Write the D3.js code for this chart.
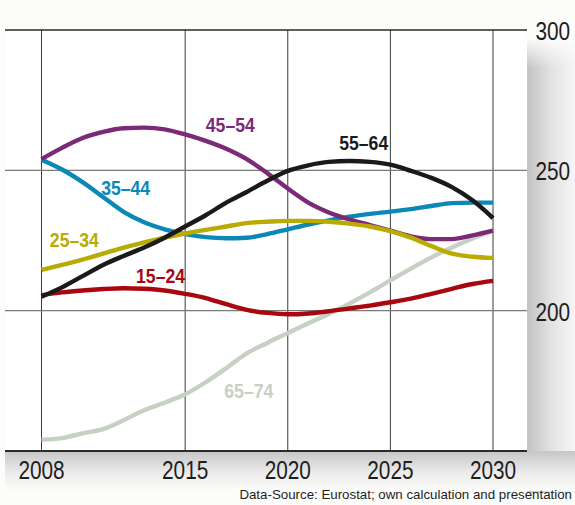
<!DOCTYPE html>
<html><head><meta charset="utf-8">
<script src="https://cdn.jsdelivr.net/npm/d3@7"></script>
<style>
html,body{margin:0;padding:0;background:#fcfcfa;}
svg{display:block;}
</style></head>
<body>
<svg id="chart" width="575" height="505"></svg>
<script>
// ---- data ----
const years = [2008,2009,2010,2011,2012,2013,2014,2015,2016,2017,2018,2019,2020,2021,2022,2023,2024,2025,2026,2027,2028,2029,2030];
const age15_24 = [205.5,206.5,207.2,207.7,208,207.8,207.2,206,204.5,202.3,200.3,199.2,198.7,199,199.8,200.8,201.8,203,204.3,206,207.8,209.5,210.6];
const age25_34 = [214.5,216.3,218.2,220.3,222.5,224.3,226,227.5,228.8,230,231.2,231.7,232,232,231.7,231,230,228.3,226,223,220.3,219.2,218.8];
const age35_44 = [253.8,250.3,245.8,240.5,235.2,231.5,229,227.3,226.2,225.8,226,227.3,229,230.7,232.2,233.5,234.5,235.3,236.2,237.3,238.3,238.5,238.5];
const age45_54 = [254,258,261.5,263.7,265,265.2,264.6,262.8,260.5,257.7,254,249,243.5,238.5,235,232.5,230.5,228.5,226.5,225.5,225.5,226.8,228.5];
const age55_64 = [205,208.3,212.3,216.3,219.5,222.5,226,230,234,238.5,242.3,246.3,249.8,251.8,253,253.3,253,252,249.8,247.3,244,239.3,233];
const age65_74 = [154,154.6,156.3,157.8,161,164.5,167.2,170.2,174.5,179.5,184.8,188.5,192,195.5,198.8,202.5,206.5,210.8,215,219,222.5,225.7,228.5];
const seriesNames = ["65–74","15–24","35–44","45–54","25–34","55–64"];
const seriesValues = [age65_74, age15_24, age35_44, age45_54, age25_34, age55_64];
const xTicks = [2008,2015,2020,2025,2030];
const yTicks = [200,250,300];
const sourceText = "Data-Source: Eurostat; own calculation and presentation";

// ---- styling / layout ----
const colors = {"65–74":"#c6d0c3","15–24":"#a8070f","35–44":"#0c88b6","45–54":"#7c2a77","25–34":"#b9ab02","55–64":"#1b1a1a"};
const labelAt = {"45–54":[2017.2,263.7],"55–64":[2023.7,257.3],"35–44":[2012.1,241.3],"25–34":[2009.6,222.7],"15–24":[2013.8,209.9],"65–74":[2018.1,168.9]};
const fam = "'Liberation Sans',Arial,sans-serif";
const squeeze = 0.8;

const svg = d3.select("#chart");
const plotL = 5, plotR = 527, plotT = 30, plotB = 451;
const x = d3.scaleLinear().domain([2008,2030]).range([41.5,493]);
const y = d3.scaleLinear().domain([150,300]).range([plotB,plotT]);

const defs = svg.append("defs");
const gR = defs.append("linearGradient").attr("id","shR").attr("x1",0).attr("x2",1).attr("y1",0).attr("y2",0);
gR.append("stop").attr("offset",0).attr("stop-color","#c2c2c2");
gR.append("stop").attr("offset",0.5).attr("stop-color","#e2e2e2");
gR.append("stop").attr("offset",1).attr("stop-color","#f6f6f6");
const gRt = defs.append("linearGradient").attr("id","shRt").attr("x1",0).attr("x2",0).attr("y1",0).attr("y2",1);
gRt.append("stop").attr("offset",0).attr("stop-color","#fcfcfa").attr("stop-opacity",1);
gRt.append("stop").attr("offset",1).attr("stop-color","#fcfcfa").attr("stop-opacity",0);
const gB = defs.append("linearGradient").attr("id","shB").attr("x1",0).attr("x2",0).attr("y1",0).attr("y2",1);
gB.append("stop").attr("offset",0).attr("stop-color","#c6c6c6");
gB.append("stop").attr("offset",0.55).attr("stop-color","#ececec");
gB.append("stop").attr("offset",1).attr("stop-color","#fcfcfa");

// shadows
svg.append("rect").attr("x",plotR).attr("y",38).attr("width",575-plotR).attr("height",455).attr("fill","url(#shR)");
svg.append("rect").attr("x",plotR).attr("y",38).attr("width",575-plotR).attr("height",30).attr("fill","url(#shRt)");
svg.append("rect").attr("x",plotL).attr("y",plotB).attr("width",575-plotL).attr("height",40).attr("fill","url(#shB)");
// plot background
svg.append("rect").attr("x",plotL).attr("y",plotT).attr("width",plotR-plotL).attr("height",plotB-plotT).attr("fill","#fff");

// vertical grid
svg.append("g").selectAll("line").data(xTicks).join("line")
  .attr("x1",d=>x(d)).attr("x2",d=>x(d)).attr("y1",plotT).attr("y2",plotB)
  .attr("stroke","#3a3a3a").attr("stroke-width",1);
// horizontal grid
svg.append("g").selectAll("line").data(yTicks.filter(d=>d<300)).join("line")
  .attr("x1",plotL).attr("x2",plotR).attr("y1",d=>y(d)).attr("y2",d=>y(d))
  .attr("stroke","#7a7a7a").attr("stroke-width",1.3);
svg.append("line").attr("x1",plotL).attr("x2",plotR).attr("y1",y(300)).attr("y2",y(300))
  .attr("stroke","#2a2a2a").attr("stroke-width",1.6);
svg.append("line").attr("x1",plotL).attr("x2",plotR).attr("y1",plotB).attr("y2",plotB)
  .attr("stroke","#2a2a2a").attr("stroke-width",1.8);

// lines
const line = d3.line().x((d,i)=>x(years[i])).y(d=>y(d)).curve(d3.curveMonotoneX);
svg.append("g").selectAll("path").data(seriesValues).join("path")
  .attr("d",d=>line(d)).attr("fill","none")
  .attr("stroke",(d,i)=>colors[seriesNames[i]]).attr("stroke-width",4.4)
  .attr("stroke-linejoin","round");

// series labels (condensed)
svg.append("g").selectAll("text").data(seriesNames).join("text")
  .attr("transform",d=>`translate(${x(labelAt[d][0])},${y(labelAt[d][1])}) scale(0.84,1)`)
  .attr("text-anchor","middle").attr("font-family",fam).attr("font-weight","bold")
  .attr("font-size",21).attr("fill",d=>colors[d]).text(d=>d);

// y tick labels
svg.append("g").selectAll("text").data(yTicks).join("text")
  .attr("transform",d=>`translate(535.5,${y(d)+10}) scale(${squeeze},1)`)
  .attr("font-family",fam).attr("font-size",26).attr("fill","#1e1e1e").text(d=>d);
// x tick labels
svg.append("g").selectAll("text").data(xTicks).join("text")
  .attr("transform",d=>`translate(${x(d)},478.5) scale(${squeeze},1)`).attr("text-anchor","middle")
  .attr("font-family",fam).attr("font-size",26).attr("fill","#1e1e1e").text(d=>d);

svg.append("text").attr("x",572).attr("y",499).attr("text-anchor","end")
  .attr("font-family",fam).attr("font-size",13.3).attr("fill","#1e1e1e")
  .text(sourceText);
</script>
</body></html>
